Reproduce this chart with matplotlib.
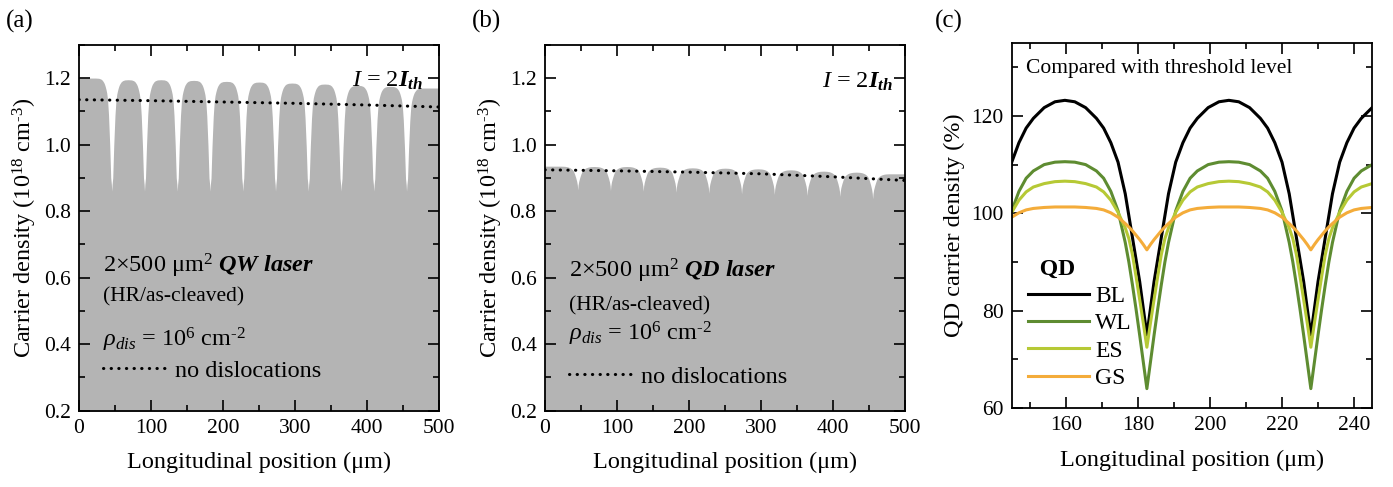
import matplotlib
matplotlib.use('Agg')
import matplotlib.pyplot as plt
from matplotlib.ticker import MultipleLocator

plt.rcParams['font.family'] = ['Liberation Serif', 'DejaVu Serif']
plt.rcParams['mathtext.fontset'] = 'custom'
plt.rcParams['mathtext.rm'] = 'Liberation Serif'
plt.rcParams['mathtext.it'] = 'Liberation Serif:italic'
plt.rcParams['mathtext.bf'] = 'Liberation Serif:bold'
plt.rcParams['mathtext.bfit'] = 'Liberation Serif:italic:bold'

# ---- data ----
cavity_len = 500
dis_pos = [45.5, 91, 136.5, 182, 227.5, 273, 318.5, 364, 409.5, 455]   # dislocation positions (um)

# distance from a dislocation (um) and normalised rise of carrier density
rise_d = [0, 0.5, 1.4, 2.8, 4.5, 5.8, 7, 8, 9, 10, 11, 13, 15, 18, 22.75]
qw_rise = [0, 0.06, 0.12, 0.41, 0.68, 0.81, 0.87, 0.9, 0.925, 0.945, 0.96, 0.98, 0.991, 0.998, 1.0]
qd_rise = [0, 0.2, 0.36, 0.52, 0.68, 0.78, 0.84, 0.87, 0.895, 0.915, 0.935, 0.96, 0.978, 0.993, 1.0]

qw_peaks = [1.2, 1.195, 1.195, 1.193, 1.19, 1.188, 1.185, 1.182, 1.178, 1.175, 1.17]
qw_dips = [0.86, 0.86, 0.86, 0.86, 0.86, 0.86, 0.86, 0.86, 0.86, 0.86]
qd_peaks = [0.935, 0.934, 0.934, 0.932, 0.93, 0.929, 0.927, 0.924, 0.92, 0.917, 0.912]
qd_dips = [0.864, 0.862, 0.86, 0.857, 0.854, 0.852, 0.85, 0.847, 0.844, 0.837]

nodis_x = [0, 100, 200, 300, 400, 500]
qw_nodis = [1.135, 1.132, 1.128, 1.124, 1.119, 1.113]
qd_nodis = [0.924, 0.921, 0.917, 0.912, 0.903, 0.892]

# panel (c): one half period, distance from dislocation (um)
c_d = [0, 1, 2, 3, 4, 5, 6, 8, 10, 12, 14, 17, 20, 22.75]
bl = [75, 80.5, 86, 90.5, 95, 99.5, 104, 110.5, 114.5, 117.5, 119.5, 121.7, 122.9, 123.2]
wl = [64, 69.5, 75, 80.3, 85.3, 90, 94, 100.5, 104.5, 107.2, 108.7, 110, 110.5, 110.6]
es = [72.5, 77.5, 82.3, 87, 91.5, 94.8, 97, 100.2, 102.7, 104.4, 105.4, 106.1, 106.5, 106.6]
gs = [92.5, 93.6, 94.6, 95.5, 96.4, 97.2, 97.9, 99.2, 100.1, 100.7, 101.0, 101.2, 101.3, 101.3]
c_dis = [137, 182.5, 228, 273.5]
c_names = ['BL', 'WL', 'ES', 'GS']
c_colors = ['black', '#5e8c31', '#b6c935', '#f4ac3a']


def cavity_profile(peaks, dips, rise):
    edges = [0] + dis_pos + [cavity_len]
    xs, ys = [], []
    for i, P in enumerate(peaks):
        L, R = edges[i], edges[i + 1]
        if i > 0:
            dl = dips[i - 1]
            xs += [L + d for d in rise_d]
            ys += [dl + r * (P - dl) for r in rise]
        else:
            xs.append(L)
            ys.append(P)
        if i < len(dips):
            dr = dips[i]
            xs += [R - d for d in rise_d[::-1]]
            ys += [dr + r * (P - dr) for r in rise[::-1]]
        else:
            xs.append(R)
            ys.append(P)
    return xs, ys


def periodic(vals):
    xs, ys = [], []
    for L, R in zip(c_dis[:-1], c_dis[1:]):
        xs += [L + d for d in c_d] + [R - d for d in c_d[-2::-1]]
        ys += vals + vals[-2::-1]
    return xs, ys


def style(ax):
    ax.tick_params(which='both', direction='in', top=True, right=True,
                   labelsize=15.5, width=1.2, pad=6)
    ax.tick_params(which='major', length=8)
    ax.tick_params(which='minor', length=4)
    for s in ax.spines.values():
        s.set_linewidth(1.3)


fig = plt.figure(figsize=(13.93, 4.87), dpi=100)
ax_a = fig.add_axes([0.0567, 0.157, 0.2584, 0.751])
ax_b = fig.add_axes([0.3912, 0.157, 0.2585, 0.751])
ax_c = fig.add_axes([0.7263, 0.162, 0.2587, 0.750])

dot = (0, (0.1, 2.4))
panels = [(ax_a, qw_peaks, qw_dips, qw_rise, qw_nodis, 'QW'),
          (ax_b, qd_peaks, qd_dips, qd_rise, qd_nodis, 'QD')]
txt_y = {'QW': (0.614, 0.527, 0.392, 0.109, 1.173, 478),
         'QD': (0.601, 0.502, 0.412, 0.093, 1.170, 483)}

for ax, pk, dp, rs, nd, kind in panels:
    x, y = cavity_profile(pk, dp, rs)
    ax.fill_between(x, 0, y, color='#b4b4b4', lw=0)
    ln, = ax.plot(nodis_x, nd, color='black', lw=2.2, ls=dot,
                  dash_capstyle='round', label='no dislocations')
    ax.set_xlim(0, 500)
    ax.set_ylim(0.2, 1.3)
    ax.xaxis.set_major_locator(MultipleLocator(100))
    ax.xaxis.set_minor_locator(MultipleLocator(50))
    ax.yaxis.set_minor_locator(MultipleLocator(0.1))
    ax.set_yticks([0.2, 0.4, 0.6, 0.8, 1.0, 1.2])
    style(ax)
    ax.set_xlabel('Longitudinal position (μm)', fontsize=17.5, labelpad=10)
    ax.set_ylabel('Carrier density (10$^{18}$ cm$^{\u20103}$)', fontsize=17.5, labelpad=3)
    y1, y2, y3, yleg, yI, xI = txt_y[kind]
    ax.text(33, y1, '2×500 μm$^2$ $\\mathbfit{' + kind + '\\ laser}$', fontsize=17.5,
            va='baseline')
    ax.text(33, y2, '(HR/as-cleaved)', fontsize=15.5, va='baseline')
    ax.text(33, y3, '$\\rho_{dis}$ = 10$^6$ cm$^{\u20102}$', fontsize=17.5, va='baseline')
    ax.text(xI, yI, '$\\mathit{I}$ = 2$\\mathbfit{I}_{\\mathbfit{th}}$', fontsize=17.5,
            ha='right', va='baseline')
    ax.legend(handles=[ln], loc='center left', bbox_to_anchor=(0.067, yleg),
              frameon=False, fontsize=17.5, handlelength=2.6, handletextpad=0.35,
              borderpad=0, borderaxespad=0)

for vals, name, col in zip([bl, wl, es, gs], c_names, c_colors):
    x, y = periodic(vals)
    ax_c.plot(x, y, color=col, lw=2.2, label=name)
ax_c.set_xlim(145, 245)
ax_c.set_ylim(60, 135)
ax_c.xaxis.set_major_locator(MultipleLocator(20))
ax_c.xaxis.set_minor_locator(MultipleLocator(10))
ax_c.yaxis.set_major_locator(MultipleLocator(20))
ax_c.yaxis.set_minor_locator(MultipleLocator(10))
style(ax_c)
ax_c.set_xlabel('Longitudinal position (μm)', fontsize=17.5, labelpad=10)
ax_c.set_ylabel('QD carrier density (%)', fontsize=17.5, labelpad=4)
ax_c.text(149, 128.8, 'Compared with threshold level', fontsize=15.5, va='baseline')
leg = ax_c.legend(loc='upper left', bbox_to_anchor=(0.045, 0.41), frameon=False,
                  fontsize=17, title='  QD', title_fontproperties={'weight': 'bold', 'size': 17},
                  alignment='left', handlelength=2.6, handletextpad=0.25,
                  labelspacing=0.25, borderpad=0, borderaxespad=0)

fig.text(0.004, 0.943, '(a)', fontsize=18)
fig.text(0.339, 0.943, '(b)', fontsize=18)
fig.text(0.671, 0.943, '(c)', fontsize=18)

fig.savefig('out.png', dpi=100)
